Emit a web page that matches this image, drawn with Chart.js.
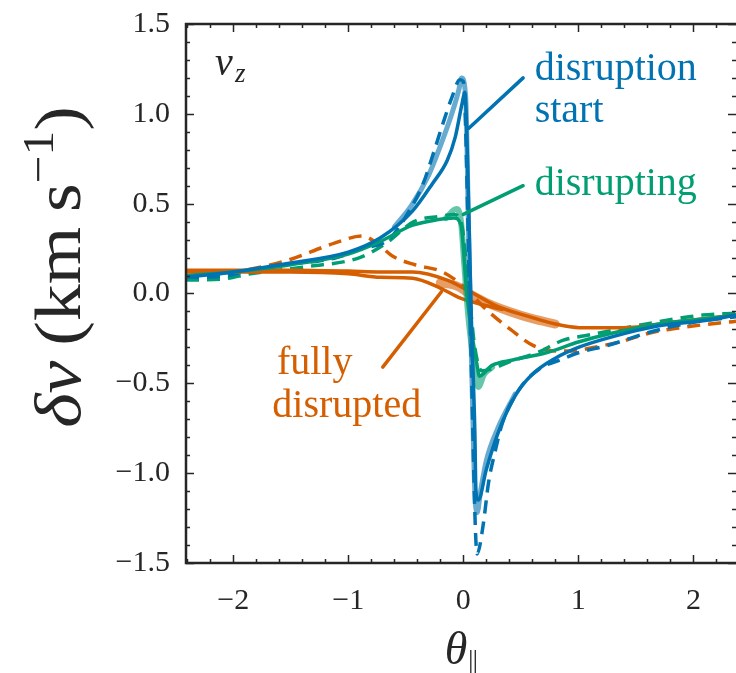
<!DOCTYPE html>
<html lang="en">
<head>
<meta charset="UTF-8">
<title>delta v_z along the stream</title>
<script src="https://cdn.jsdelivr.net/npm/chart.js"></script>
<style>
  body { margin: 0; background: #fff; }
  #wrap { width: 736px; height: 673px; }
</style>
</head>
<body>
<div id="wrap"><canvas id="dv" width="736" height="673"></canvas></div>
<script>
// axis ticks
const xTickValues = [-2, -1, 0, 1, 2];
const yTickValues = [-1.5, -1.0, -0.5, 0.0, 0.5, 1.0, 1.5];

// disruption start (blue): simulation, model, particle band
const startSimX = [-2.41, -2.0, -1.5, -1.0, -0.72, -0.44, -0.27, -0.14, -0.07, -0.01, 0.013, 0.05, 0.07, 0.1, 0.11, 0.13, 0.2, 0.3, 0.45, 0.6, 0.8, 1.0, 1.3, 1.7, 2.1, 2.37];
const startSimY = [0.09, 0.12, 0.17, 0.23, 0.31, 0.46, 0.61, 0.74, 0.87, 1.06, 1.12, 0.4, -0.15, -0.76, -1.1, -1.15, -0.98, -0.78, -0.57, -0.45, -0.36, -0.3, -0.24, -0.18, -0.15, -0.12];
const startModX = [-2.41, -2.1, -1.85, -1.6, -1.33, -1.1, -0.88, -0.65, -0.47, -0.35, -0.25, -0.18, -0.1, -0.03, 0.0, 0.06, 0.12, 0.17, 0.22, 0.28, 0.34, 0.49, 0.66, 0.84, 1.0, 1.25, 1.65, 2.0, 2.37];
const startModY = [0.09, 0.095, 0.13, 0.16, 0.175, 0.2, 0.25, 0.3, 0.46, 0.61, 0.8, 0.94, 1.09, 1.19, 1.18, -0.15, -1.45, -1.3, -1.05, -0.87, -0.72, -0.53, -0.42, -0.37, -0.33, -0.29, -0.21, -0.16, -0.13];
const startBandX = [-0.6, -0.45, -0.3, -0.2, -0.1, -0.04, -0.015, 0.02, 0.05, 0.08, 0.1, 0.12, 0.15, 0.2, 0.3, 0.45];
const startBandY = [0.37, 0.49, 0.66, 0.82, 1.0, 1.13, 1.2, 1.1, 0.2, -0.6, -1.1, -1.22, -1.1, -0.93, -0.75, -0.56];

// disrupting (green)
const midSimX = [-2.41, -2.0, -1.5, -1.0, -0.72, -0.44, -0.23, -0.08, -0.02, 0.03, 0.07, 0.12, 0.14, 0.25, 0.43, 0.72, 1.0, 1.3, 1.7, 2.1, 2.37];
const midSimY = [0.1, 0.12, 0.16, 0.22, 0.29, 0.38, 0.41, 0.42, 0.38, 0.0, -0.2, -0.4, -0.46, -0.4, -0.37, -0.33, -0.27, -0.22, -0.17, -0.14, -0.12];
const midModX = [-2.41, -2.1, -1.85, -1.35, -0.9, -0.67, -0.43, -0.2, -0.08, -0.02, 0.05, 0.1, 0.16, 0.25, 0.4, 0.64, 0.87, 1.1, 1.5, 2.08, 2.37];
const midModY = [0.075, 0.08, 0.11, 0.15, 0.2, 0.28, 0.4, 0.43, 0.44, 0.4, 0.0, -0.3, -0.43, -0.42, -0.38, -0.33, -0.26, -0.23, -0.18, -0.12, -0.11];
const midBandX = [-0.15, -0.06, -0.02, 0.01, 0.04, 0.07, 0.1, 0.13, 0.18, 0.25];
const midBandY = [0.42, 0.47, 0.4, 0.15, -0.1, -0.28, -0.42, -0.52, -0.45, -0.41];

// fully disrupted (orange): two runs, model, particle band
const fullSimX = [-2.41, -2.0, -1.5, -1.0, -0.72, -0.44, -0.14, 0.06, 0.29, 0.58, 0.8, 1.01, 1.39, 1.82, 2.37];
const fullSimY = [0.13, 0.13, 0.13, 0.125, 0.12, 0.12, 0.075, 0.01, -0.07, -0.13, -0.17, -0.19, -0.19, -0.16, -0.12];
const fullSim2X = [-2.41, -1.5, -1.0, -0.72, -0.44, -0.2, -0.03, 0.15, 0.35];
const fullSim2Y = [0.12, 0.12, 0.11, 0.09, 0.085, 0.03, -0.025, -0.06, -0.09];
const fullModX = [-2.41, -2.0, -1.55, -1.12, -0.88, -0.75, -0.62, -0.42, -0.18, 0.0, 0.2, 0.41, 0.61, 0.8, 0.96, 1.13, 1.36, 1.62, 1.89, 2.29, 2.37];
const fullModY = [0.1, 0.12, 0.18, 0.28, 0.32, 0.28, 0.21, 0.16, 0.12, 0.04, -0.09, -0.2, -0.29, -0.32, -0.32, -0.3, -0.27, -0.22, -0.19, -0.16, -0.155];
const fullBandX = [-0.2, -0.05, 0.05, 0.2, 0.4, 0.6, 0.8];
const fullBandY = [0.06, 0.04, 0.0, -0.05, -0.1, -0.14, -0.17];

const BLUE = '#0173B2', GREEN = '#029E73', ORANGE = '#D55E00';
const INK = '#262626';
const SERIF = "'Liberation Serif', 'DejaVu Serif', serif";

function pts(xs, ys) {
  return xs.map((x, i) => ({ x: x, y: ys[i] }));
}

function solid(xs, ys, color) {
  return { data: pts(xs, ys), borderColor: color, borderWidth: 3.5, pointRadius: 0,
           showLine: true, cubicInterpolationMode: 'monotone' };
}
function dashed(xs, ys, color) {
  return { data: pts(xs, ys), borderColor: color, borderWidth: 3.5, borderDash: [13, 8],
           pointRadius: 0, showLine: true, cubicInterpolationMode: 'monotone' };
}
function band(xs, ys, color, w) {
  return { data: pts(xs, ys), borderColor: color + '99', borderWidth: w, pointRadius: 0,
           showLine: true, cubicInterpolationMode: 'monotone', borderCapStyle: 'round' };
}

// labels next to the curves, anchored in data units
const notes = [
  { text: 'disruption', x: 0.62, y: 1.19, color: BLUE },
  { text: 'start', x: 0.62, y: 0.955, color: BLUE },
  { text: 'disrupting', x: 0.62, y: 0.55, color: GREEN },
  { text: 'fully', x: -1.62, y: -0.45, color: ORANGE },
  { text: 'disrupted', x: -1.66, y: -0.69, color: ORANGE }
];
const pointers = [
  { from: [0.048, 0.92], to: [0.52, 1.2], color: BLUE },
  { from: [0.0, 0.44], to: [0.52, 0.6], color: GREEN },
  { from: [-0.19, 0.01], to: [-0.7, -0.41], color: ORANGE }
];

const decorations = {
  id: 'decorations',
  afterDatasetsDraw(chart) {
    const { ctx, chartArea: a, scales: { x, y } } = chart;
    ctx.save();

    // pointer lines and curve labels
    ctx.lineCap = 'round';
    ctx.lineWidth = 3.5;
    pointers.forEach(p => {
      ctx.strokeStyle = p.color;
      ctx.beginPath();
      ctx.moveTo(x.getPixelForValue(p.from[0]), y.getPixelForValue(p.from[1]));
      ctx.lineTo(x.getPixelForValue(p.to[0]), y.getPixelForValue(p.to[1]));
      ctx.stroke();
    });
    ctx.font = '40px ' + SERIF;
    ctx.textBaseline = 'alphabetic';
    ctx.textAlign = 'left';
    notes.forEach(n => {
      ctx.fillStyle = n.color;
      ctx.fillText(n.text, x.getPixelForValue(n.x), y.getPixelForValue(n.y));
    });

    // component label
    ctx.fillStyle = INK;
    ctx.font = 'italic 40px ' + SERIF;
    ctx.fillText('v', a.left + 29, a.top + 51);
    ctx.font = 'italic 27px ' + SERIF;
    ctx.fillText('z', a.left + 49, a.top + 58);

    // frame with inward ticks on all sides
    ctx.strokeStyle = INK;
    ctx.lineCap = 'butt';
    ctx.lineWidth = 1.5;
    ctx.beginPath();
    for (let v = -2.4; v <= 2.4001; v += 0.2) {
      const px = Math.round(x.getPixelForValue(v)) + 0.5;
      if (px < a.left || px > a.right) continue;
      const major = Math.abs(v - Math.round(v)) < 1e-6;
      const len = major ? 8 : 4;
      ctx.moveTo(px, a.bottom); ctx.lineTo(px, a.bottom - len);
      ctx.moveTo(px, a.top); ctx.lineTo(px, a.top + len);
    }
    for (let v = -1.5; v <= 1.5001; v += 0.1) {
      const py = Math.round(y.getPixelForValue(v)) + 0.5;
      const major = Math.abs(v * 2 - Math.round(v * 2)) < 1e-6;
      const len = major ? 8 : 4;
      ctx.moveTo(a.left, py); ctx.lineTo(a.left + len, py);
      ctx.moveTo(a.right, py); ctx.lineTo(a.right - len, py);
    }
    ctx.stroke();
    ctx.lineWidth = 2.5;
    ctx.beginPath();
    ctx.moveTo(a.right + 2, a.top);
    ctx.lineTo(a.left, a.top);
    ctx.lineTo(a.left, a.bottom);
    ctx.lineTo(a.right + 2, a.bottom);
    ctx.stroke();

    // axis titles
    ctx.fillStyle = INK;
    ctx.textAlign = 'left';
    ctx.font = 'italic 46px ' + SERIF;
    const tw = ctx.measureText('θ').width;
    const tx = 456 - tw / 2;
    ctx.fillText('θ', tx, 664);
    ctx.lineWidth = 1.3;
    ctx.beginPath();
    ctx.moveTo(tx + tw + 3.5, 650); ctx.lineTo(tx + tw + 3.5, 674);
    ctx.moveTo(tx + tw + 8, 650); ctx.lineTo(tx + tw + 8, 674);
    ctx.stroke();

    const parts = [
      { t: 'δv', f: 'italic 66px ' + SERIF, dy: 0 },
      { t: '\u2009(km\u2009s', f: '66px ' + SERIF, dy: 0 },
      { t: '−1', f: '44px ' + SERIF, dy: -27 },
      { t: ')', f: '66px ' + SERIF, dy: 0 }
    ];
    let total = 0;
    parts.forEach(p => { ctx.font = p.f; p.w = ctx.measureText(p.t).width; total += p.w; });
    ctx.translate(80, 267);
    ctx.rotate(-Math.PI / 2);
    ctx.scale(1.12, 1);
    let cx = -total / 2;
    parts.forEach(p => { ctx.font = p.f; ctx.fillText(p.t, cx, p.dy); cx += p.w; });
    ctx.restore();
  }
};

const fmt = v => (v < 0 ? '−' : '') + Math.abs(v);

new Chart(document.getElementById('dv'), {
  type: 'scatter',
  data: {
    datasets: [
      solid(startSimX, startSimY, BLUE),
      band(startBandX, startBandY, BLUE, 5),
      solid(midSimX, midSimY, GREEN),
      band(midBandX, midBandY, GREEN, 6),
      band(fullBandX, fullBandY, ORANGE, 9),
      solid(fullSimX, fullSimY, ORANGE),
      solid(fullSim2X, fullSim2Y, ORANGE),
      dashed(startModX, startModY, BLUE),
      dashed(midModX, midModY, GREEN),
      dashed(fullModX, fullModY, ORANGE)
    ]
  },
  options: {
    responsive: false,
    animation: false,
    devicePixelRatio: 1,
    layout: { padding: { top: 24, right: 0, left: 0, bottom: 0 } },
    plugins: { legend: { display: false }, tooltip: { enabled: false } },
    scales: {
      x: {
        type: 'linear', min: -2.41, max: 2.37,
        grid: { display: false, drawTicks: false },
        border: { display: false },
        afterBuildTicks: s => { s.ticks = xTickValues.map(v => ({ value: v })); },
        afterFit: s => { s.height = 110; s.paddingLeft = 0; s.paddingRight = 0; },
        ticks: { color: INK, padding: 20, font: { family: SERIF, size: 30 }, maxRotation: 0,
                 callback: v => fmt(v) }
      },
      y: {
        type: 'linear', min: -1.5, max: 1.5,
        grid: { display: false, drawTicks: false },
        border: { display: false },
        afterBuildTicks: s => { s.ticks = yTickValues.map(v => ({ value: v })); },
        afterFit: s => { s.width = 186; s.paddingTop = 0; s.paddingBottom = 0; },
        ticks: { color: INK, padding: 16, font: { family: SERIF, size: 30 },
                 callback: v => (v < 0 ? '−' : '') + Math.abs(v).toFixed(1) }
      }
    }
  },
  plugins: [decorations]
});
</script>
</body>
</html>
